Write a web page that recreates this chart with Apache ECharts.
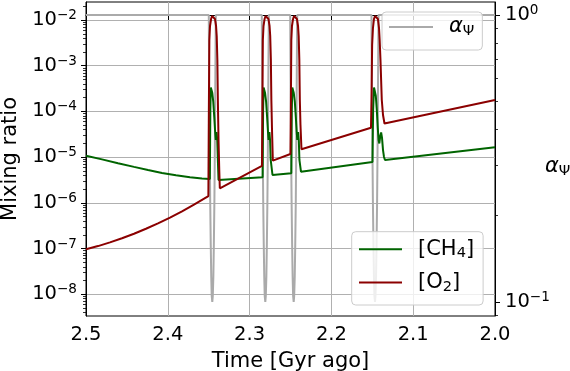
<!DOCTYPE html>
<html><head><meta charset="utf-8">
<script src="https://cdn.jsdelivr.net/npm/echarts@6/dist/echarts.min.js"></script>
<style>html,body{margin:0;padding:0;background:#fff}#c{width:570px;height:371px}</style>
</head><body><div id="c"></div>
<script>
// ---------------- data (time in Gyr ago, mixing ratios, alpha) ----------------
const xTicks = [2.0, 2.1, 2.2, 2.3, 2.4, 2.5];
const leftExponents = [-8, -7, -6, -5, -4, -3, -2];
const rightExponents = [-1, 0];

const ch4Time = [
  2.5, 2.4804, 2.4609, 2.4413, 2.4242, 2.4071, 2.3900, 2.3729, 2.3582, 2.3486,
  2.3480, 2.3474, 2.3466, 2.3456, 2.3444, 2.3432, 2.3421, 2.3413, 2.3404, 2.3395, 2.3388, 2.3380,
  2.2841, 2.2835, 2.2829, 2.2820, 2.2811, 2.2798, 2.2786, 2.2775, 2.2768, 2.2758, 2.2749, 2.2742, 2.2720,
  2.2490, 2.2484, 2.2478, 2.2469, 2.2460, 2.2447, 2.2435, 2.2424, 2.2417, 2.2407, 2.2398, 2.2391, 2.2372,
  2.1498, 2.1490, 2.1479, 2.1469, 2.1457, 2.1445, 2.1433, 2.1423, 2.1414, 2.1403, 2.1392, 2.1381, 2.1369, 2.1357, 2.1345,
  2.0
];
const ch4Values = [
  1.076e-5, 8.93e-6, 7.38e-6, 6.12e-6, 5.21e-6, 4.525e-6, 4.01e-6, 3.63e-6, 3.41e-6, 3.33e-6,
  1.08e-4, 3.34e-4, 3.18e-4, 2.53e-4, 1.61e-4, 7.56e-5, 3.55e-5, 2.37e-5, 3.55e-5, 2.26e-5, 8.67e-6, 3.17e-6,
  3.63e-6, 1.08e-4, 3.34e-4, 3.18e-4, 2.53e-4, 1.61e-4, 7.56e-5, 3.55e-5, 2.37e-5, 3.55e-5, 2.26e-5, 8.67e-6, 4.07e-6,
  4.44e-6, 1.08e-4, 3.34e-4, 3.18e-4, 2.53e-4, 1.61e-4, 7.56e-5, 3.55e-5, 2.37e-5, 3.55e-5, 2.26e-5, 8.67e-6, 4.81e-6,
  7.83e-6, 1.08e-4, 3.34e-4, 3.10e-4, 2.18e-4, 1.08e-4, 4.34e-5, 2.37e-5, 1.99e-5, 2.90e-5, 3.46e-5, 2.62e-5, 1.43e-5, 1.01e-5, 8.67e-6,
  1.64e-5
];

const o2Time = [
  2.5, 2.4853, 2.4707, 2.4560, 2.4413, 2.4267, 2.4120, 2.3973, 2.3826, 2.3680, 2.3504,
  2.3498, 2.3492, 2.3484, 2.3471, 2.3459, 2.3447, 2.3435, 2.3423, 2.3410, 2.3402, 2.3394, 2.3388, 2.3380, 2.3371, 2.3364,
  2.2849, 2.2844, 2.2838, 2.2830, 2.2817, 2.2805, 2.2793, 2.2781, 2.2769, 2.2756, 2.2748, 2.2740, 2.2734, 2.2726, 2.2716,
  2.2501, 2.2496, 2.2490, 2.2482, 2.2469, 2.2457, 2.2445, 2.2433, 2.2421, 2.2408, 2.2400, 2.2392, 2.2386, 2.2378, 2.2366,
  2.1516, 2.1510, 2.1502, 2.1492, 2.1480, 2.1467, 2.1455, 2.1443, 2.1431, 2.1418, 2.1410, 2.1400, 2.1384, 2.1369, 2.1351,
  2.0
];
const o2Values = [
  9.65e-8, 1.134e-7, 1.367e-7, 1.68e-7, 2.107e-7, 2.711e-7, 3.557e-7, 4.764e-7, 6.54e-7, 9.17e-7, 1.41e-6,
  1.08e-4, 3.65e-3, 7.39e-3, 1.05e-2, 1.22e-2, 1.29e-2, 1.22e-2, 1.05e-2, 7.39e-3, 4.47e-3, 1.33e-3, 1.78e-4, 2.37e-5, 5.24e-6, 2.08e-6,
  6.41e-6, 1.08e-4, 3.65e-3, 7.39e-3, 1.05e-2, 1.22e-2, 1.29e-2, 1.22e-2, 1.05e-2, 7.39e-3, 4.47e-3, 1.33e-3, 1.78e-4, 3.93e-5, 8.37e-6,
  1.17e-5, 1.08e-4, 3.65e-3, 7.39e-3, 1.05e-2, 1.22e-2, 1.29e-2, 1.22e-2, 1.05e-2, 7.39e-3, 4.47e-3, 1.33e-3, 1.78e-4, 5.05e-5, 1.49e-5,
  4.41e-5, 1.78e-4, 2.84e-3, 6.68e-3, 1.05e-2, 1.22e-2, 1.29e-2, 1.22e-2, 1.05e-2, 6.68e-3, 3.65e-3, 1.33e-3, 1.78e-4, 8.36e-5, 5.45e-5,
  1.78e-4
];

const alphaTime = [
  2.5,
  2.3499, 2.3495, 2.3488, 2.3482, 2.3475, 2.3469, 2.3463, 2.3456, 2.3450, 2.3443, 2.3437, 2.3430, 2.3424, 2.3418, 2.3413,
  2.2851, 2.2847, 2.2840, 2.2834, 2.2827, 2.2821, 2.2815, 2.2808, 2.2802, 2.2795, 2.2789, 2.2782, 2.2776, 2.2770, 2.2765,
  2.2504, 2.2500, 2.2493, 2.2487, 2.2480, 2.2474, 2.2468, 2.2461, 2.2455, 2.2448, 2.2442, 2.2435, 2.2429, 2.2423, 2.2418,
  2.1510, 2.1506, 2.1499, 2.1493, 2.1486, 2.1480, 2.1474, 2.1467, 2.1461, 2.1454, 2.1448, 2.1441, 2.1435, 2.1429, 2.1424,
  2.0
];
const alphaValues = [
  1,
  1, 0.646, 0.365, 0.229, 0.159, 0.123, 0.105, 0.1, 0.105, 0.123, 0.159, 0.229, 0.365, 0.646, 1,
  1, 0.646, 0.365, 0.229, 0.159, 0.123, 0.105, 0.1, 0.105, 0.123, 0.159, 0.229, 0.365, 0.646, 1,
  1, 0.646, 0.365, 0.229, 0.159, 0.123, 0.105, 0.1, 0.105, 0.123, 0.159, 0.229, 0.365, 0.646, 1,
  1, 0.646, 0.365, 0.229, 0.159, 0.123, 0.105, 0.1, 0.105, 0.123, 0.159, 0.229, 0.365, 0.646, 1,
  1
];

// ---------------- layout / style ----------------
const FONT = 'DejaVu Sans';
const LEFT_MIN = -8.4746, LEFT_MAX = -1.6063;   // log10 extents of the left axis
const RIGHT_MIN = -1.0488, RIGHT_MAX = 0.0453;  // log10 extents of the right axis

const leftMinor = [];
for (let e = -9; e <= -2; e++) for (let m = 2; m <= 9; m++) {
  const v = e + Math.log10(m); if (v > LEFT_MIN && v < LEFT_MAX) leftMinor.push(v);
}
const rightMinor = [];
for (let e = -2; e <= 0; e++) for (let m = 2; m <= 9; m++) {
  const v = e + Math.log10(m); if (v > RIGHT_MIN && v < RIGHT_MAX) rightMinor.push(v);
}

const toLog = (ts, vs) => ts.map((t, i) => [t, Math.log10(vs[i])]);
const powLabel = v => { const e = Math.round(v); return '{b|10}{s|' + (e < 0 ? '\u2212' + (-e) : e) + '}'; };
const powRich = {
  b: { fontSize: 19.5, lineHeight: 20, verticalAlign: 'bottom', fontFamily: FONT, color: '#000' },
  s: { fontSize: 13.6, lineHeight: 14, verticalAlign: 'bottom', padding: [0, 0, 7.5, 0], fontFamily: FONT, color: '#000' }
};
const legRich = {
  f: { fontSize: 21, lineHeight: 21, verticalAlign: 'top', padding: [0, 0, 0, 11], fontFamily: FONT, color: '#000' },
  b: { fontSize: 21, lineHeight: 21, verticalAlign: 'top', fontFamily: FONT, color: '#000' },
  a: { fontSize: 21, lineHeight: 21, verticalAlign: 'top', fontStyle: 'italic', padding: [0, 0, 0, 11], fontFamily: FONT, color: '#000' },
  ai: { fontSize: 21, lineHeight: 21, verticalAlign: 'top', fontStyle: 'italic', fontFamily: FONT, color: '#000' },
  s: { fontSize: 14.6, lineHeight: 15, verticalAlign: 'top', padding: [7.5, 0, 0, 0], fontFamily: FONT, color: '#000' }
};
const tickStyle = { color: '#000', width: 1 };

const chart = echarts.init(document.getElementById('c'), null, { renderer: 'canvas' });
chart.setOption({
  animation: false,
  backgroundColor: '#fff',
  textStyle: { fontFamily: FONT },
  grid: { left: 86, top: 2, width: 409, height: 314, containLabel: false, outerBoundsMode: 'none',
          show: true, borderColor: '#000', borderWidth: 1, backgroundColor: 'transparent' },
  xAxis: {
    type: 'value', inverse: true, min: xTicks[0], max: xTicks[xTicks.length - 1], interval: 0.1,
    name: 'Time [Gyr ago]', nameLocation: 'middle', nameGap: 35, nameMoveOverlap: false,
    nameTextStyle: { fontSize: 21, color: '#000', fontFamily: FONT },
    axisLine: { show: true, lineStyle: tickStyle },
    axisTick: { show: true, length: 5, lineStyle: tickStyle },
    axisLabel: { fontSize: 19.5, color: '#000', margin: 9, fontFamily: FONT, formatter: v => v.toFixed(1) },
    splitLine: { show: true, lineStyle: { color: '#b0b0b0', width: 1 } }
  },
  yAxis: [
    {
      type: 'value', position: 'left', min: LEFT_MIN, max: LEFT_MAX,
      name: 'Mixing ratio', nameLocation: 'middle', nameGap: 65, nameMoveOverlap: false,
      nameTextStyle: { fontSize: 21, color: '#000', fontFamily: FONT },
      axisLine: { show: true, lineStyle: tickStyle },
      axisTick: { show: true, length: 5, customValues: leftExponents, lineStyle: tickStyle },
      axisLabel: { customValues: leftExponents, margin: 9, formatter: powLabel, rich: powRich },
      splitLine: { show: true, lineStyle: { color: '#b0b0b0', width: 1 } }
    },
    {
      type: 'value', position: 'left', min: LEFT_MIN, max: LEFT_MAX,
      axisLine: { show: false },
      axisTick: { show: true, length: 3, customValues: leftMinor, lineStyle: { color: '#000', width: 0.8 } },
      axisLabel: { show: false },
      splitLine: { show: false }
    },
    {
      type: 'value', position: 'right', min: RIGHT_MIN, max: RIGHT_MAX,
      name: '{ai|\u03b1}{s|\u03a8}', nameLocation: 'middle', nameGap: 50, nameRotate: 0, nameMoveOverlap: false,
      nameTextStyle: { padding: [16, 0, 0, 0], rich: legRich },
      axisLine: { show: true, lineStyle: tickStyle },
      axisTick: { show: true, length: 5, customValues: rightExponents, lineStyle: tickStyle },
      axisLabel: { customValues: rightExponents, margin: 10, formatter: powLabel, rich: powRich },
      splitLine: { show: false }
    },
    {
      type: 'value', position: 'right', min: RIGHT_MIN, max: RIGHT_MAX,
      axisLine: { show: false },
      axisTick: { show: true, length: 3, customValues: rightMinor, lineStyle: { color: '#000', width: 0.8 } },
      axisLabel: { show: false },
      splitLine: { show: false }
    }
  ],
  legend: [
    {
      data: ['alpha'], left: 382, top: 12, orient: 'vertical', selectedMode: false,
      padding: [4.5, 8, 11, 7], itemWidth: 44, itemHeight: 2, icon: 'rect',
      backgroundColor: 'rgba(255,255,255,0.8)', borderColor: '#cccccc', borderWidth: 1, borderRadius: 4,
      formatter: () => '{a|\u03b1}{s|\u03a8}',
      textStyle: { rich: legRich }
    },
    {
      data: ['ch4', 'o2'], left: 351.7, top: 231.7, orient: 'vertical', selectedMode: false,
      padding: [7, 9, 10.5, 7.3], itemGap: 10.8, itemWidth: 43, itemHeight: 2, icon: 'rect',
      backgroundColor: 'rgba(255,255,255,0.8)', borderColor: '#cccccc', borderWidth: 1, borderRadius: 4,
      formatter: n => n === 'ch4' ? '{f|[CH}{s|4}{b|]}' : '{f|[O}{s|2}{b|]}',
      textStyle: { rich: legRich }
    }
  ],
  series: [
    { name: 'alpha', type: 'line', xAxisIndex: 0, yAxisIndex: 2, data: toLog(alphaTime, alphaValues),
      symbol: 'none', color: '#aaaaaa', lineStyle: { width: 2, color: '#aaaaaa' } },
    { name: 'ch4', type: 'line', xAxisIndex: 0, yAxisIndex: 0, data: toLog(ch4Time, ch4Values),
      symbol: 'none', color: '#006400', lineStyle: { width: 2, color: '#006400' } },
    { name: 'o2', type: 'line', xAxisIndex: 0, yAxisIndex: 0, data: toLog(o2Time, o2Values),
      symbol: 'none', color: '#8b0000', lineStyle: { width: 2, color: '#8b0000' } }
  ]
});
</script></body></html>
